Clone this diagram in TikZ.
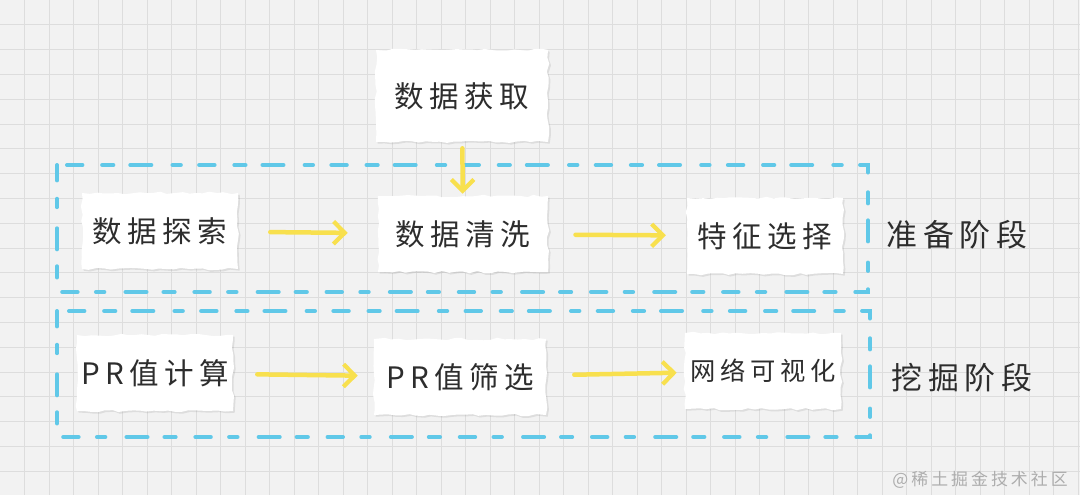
\documentclass[tikz,border=0pt]{standalone}
\usepackage{fontspec}
\usepackage{tikz}
\usetikzlibrary{arrows.meta, decorations.pathmorphing, shadows}
\newfontfamily\cjk[LetterSpace=18]{Noto Sans CJK SC}
\definecolor{sheetgray}{RGB}{242,242,242}
\definecolor{gridgray}{RGB}{221,221,221}
\definecolor{stagecyan}{RGB}{96,200,232}
\definecolor{flowyellow}{RGB}{248,224,78}
\definecolor{inkgray}{RGB}{45,45,45}

\begin{document}
\begin{tikzpicture}[
    x=0.025cm, y=-0.025cm,
    paper/.style={rectangle, fill=white, inner sep=0pt, decorate,
                decoration={random steps, segment length=5pt, amplitude=0.9pt},
                drop shadow={opacity=0.18, shadow xshift=1.2pt, shadow yshift=-1.2pt},
                minimum width=3.9cm, minimum height=1.9cm,
                font=\cjk\fontsize{21}{25}\selectfont, text=inkgray},
    stage/.style={font=\cjk\fontsize{22}{26}\selectfont, text=inkgray, inner sep=0pt},
    flow/.style={-{Straight Barb[length=8pt, width=16pt, line width=3pt]}, line width=3.2pt,
                flowyellow, line cap=round},
    stagebox/.style={stagecyan, line width=2.8pt, line cap=round,
                dash pattern=on 11pt off 13pt on 6pt off 15pt on 15pt off 12pt on 8pt off 14pt}
]
\pgfmathsetseed{7}
\useasboundingbox (0,0) rectangle (1080,495);

% Grid paper
\fill[sheetgray] (0,0) rectangle (1080,495);
\foreach \gx in {1,...,44} \draw[gridgray, line width=0.5pt] (\gx*24.5,0) -- (\gx*24.5,495);
\foreach \gy in {1,...,20} \draw[gridgray, line width=0.5pt] (0,\gy*24.8) -- (1080,\gy*24.8);

% Stage frames
\draw[stagebox] (57,165) rectangle (868,292);
\draw[stagebox] (57,311) rectangle (870,437);

\node[paper, minimum width=4.3cm, minimum height=2.3cm] (huoqu) at (462,96) {数据获取};
\node[paper] (tansuo) at (160,231) {数据探索};
\node[paper, minimum width=4.25cm] (qingxi) at (463,234) {数据清洗};
\node[paper] (tezheng) at (765,236) {特征选择};
\node[paper] (jisuan) at (155,373) {PR值计算};
\node[paper, minimum width=4.3cm] (shaixuan) at (460,377) {PR值筛选};
\node[paper, font=\cjk\fontsize{18}{21}\selectfont] (keshi) at (763,371) {网络可视化};

\node[stage] (zhunbei) at (957,235) {准备阶段};
\node[stage] (wajue) at (962,378) {挖掘阶段};

\draw[flow, shorten <=0.15cm, shorten >=0.05cm] (huoqu) -- (qingxi);
\draw[flow, shorten <=0.8cm, shorten >=0.75cm] (tansuo) -- (qingxi);
\draw[flow, shorten <=0.68cm, shorten >=0.52cm] (qingxi) -- (tezheng);
\draw[flow, shorten <=0.6cm, shorten >=0.4cm] (jisuan) -- (shaixuan);
\draw[flow, shorten <=0.7cm, shorten >=0.2cm] (shaixuan) -- (keshi);

% Watermark
\node[font=\cjk\fontsize{12}{14}\selectfont, text=black!32] (mark) at (980,480) {@稀土掘金技术社区};

\end{tikzpicture}
\end{document}
